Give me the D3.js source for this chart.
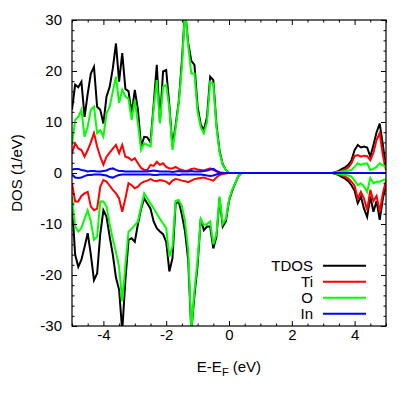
<!DOCTYPE html>
<html>
<head>
<meta charset="utf-8">
<script src="https://cdn.jsdelivr.net/npm/d3@7/dist/d3.min.js"></script>
<style>
html,body{margin:0;padding:0;background:#fff;}
svg{display:block;}
text{font-family:"Liberation Sans",Arial,Helvetica,sans-serif;fill:#000;}
</style>
</head>
<body>
<svg id="chart" width="415" height="396"></svg>
<script>
// Energy grid (eV, relative to E_F)
const energy = [-5.0,-4.9,-4.8,-4.7,-4.6,-4.5,-4.4,-4.3,-4.2,-4.1,
 -4.0,-3.9,-3.8,-3.7,-3.6,-3.5,-3.4,-3.3,-3.2,-3.1,
 -3.0,-2.9,-2.8,-2.7,-2.6,-2.5,-2.4,-2.3,-2.2,-2.1,
 -2.0,-1.9,-1.8,-1.7,-1.6,-1.5,-1.4,-1.3,-1.2,-1.1,
 -1.0,-0.9,-0.8,-0.7,-0.6,-0.5,-0.4,-0.3,-0.2,-0.1,
 0.0,0.1,0.2,0.3,0.4,0.5,0.6,0.7,0.8,0.9,
 1.0,1.1,1.2,1.3,1.4,1.5,1.6,1.7,1.8,1.9,
 2.0,2.1,2.2,2.3,2.4,2.5,2.6,2.7,2.8,2.9,
 3.0,3.1,3.2,3.3,3.4,3.5,3.6,3.7,3.8,3.9,
 4.0,4.1,4.2,4.3,4.4,4.5,4.6,4.7,4.8,4.9,5.0];

// spin up
const tdosUp = [12.4,17.3,16.8,17.9,11.0,15.5,19.5,20.8,13.0,12.4,
 9.7,15.0,16.9,20.5,25.4,17.9,23.5,16.5,16.0,11.7,
 16.3,12.4,5.2,7.1,7.0,6.0,13.3,21.2,10.0,19.9,
 20.2,13.3,5.2,9.4,14.0,22.0,32.0,25.5,22.0,21.2,
 13.0,9.5,8.4,11.0,18.9,18.2,9.5,4.3,1.7,0.6,
 0,
 0,0,0,0,0,0,0,0, 0,0,0,0,0,0,0,0, 0,0,0,0,0,0,0,0, 0,0,0,0,0,0,0,0,
 0,0.2,0.4,0.8,1.1,1.6,2.5,4.5,5.5,5.0,5.2,5.0,3.2,5.5,8.0,9.7,5.5,1.0];
const tiUp = [3.9,5.8,4.8,4.5,3.2,4.5,6.0,7.8,5.2,3.2,
 1.6,3.2,4.0,4.8,5.5,3.9,5.5,3.2,3.0,2.5,
 2.9,1.9,1.0,0.6,0.6,1.6,1.4,2.2,1.6,1.9,
 1.2,0.9,0.9,1.2,0.8,0.6,0.4,0.5,0.8,0.9,
 0.7,0.6,0.5,0.7,0.9,0.6,0.3,0.1,0.05,0,
 0,
 0,0,0,0,0,0,0,0, 0,0,0,0,0,0,0,0, 0,0,0,0,0,0,0,0, 0,0,0,0,0,0,0,0,
 0,0.1,0.2,0.4,0.7,1.1,1.9,3.3,3.5,3.2,3.4,3.3,2.5,4.0,6.5,7.8,3.5,0.6];
const oUp = [5.5,10.4,11.0,12.4,7.1,9.1,12.4,13.0,7.8,8.4,
 7.1,11.7,13.0,16.0,18.9,13.7,16.3,15.0,14.5,10.4,
 14.3,9.7,4.5,5.8,5.5,5.2,12.7,18.2,9.7,16.9,
 17.3,12.7,4.5,8.8,13.7,20.8,32.0,25.0,19.5,19.5,
 12.0,9.0,7.8,10.0,17.9,17.5,9.0,4.0,1.6,0.6,
 0,
 0,0,0,0,0,0,0,0, 0,0,0,0,0,0,0,0, 0,0,0,0,0,0,0,0, 0,0,0,0,0,0,0,0,
 0,0.1,0.2,0.3,0.4,0.5,0.6,1.2,1.9,1.6,1.8,1.9,0.6,0.8,1.2,1.9,1.5,1.2];
const inUp = [0.7,0.8,0.8,0.6,0.5,0.3,0.4,0.4,0.3,0.3,
 0.4,0.5,0.8,0.9,0.6,0.4,0.4,0.3,0.3,0.3,
 0.3,0.3,0.3,0.3,0.3,0.4,0.5,0.4,0.3,0.3,
 0.3,0.3,0.2,0.3,0.4,0.3,0.3,0.3,0.4,0.3,
 0.3,0.3,0.4,0.5,0.7,0.8,0.4,0.1,0,0,
 0,
 0,0,0,0,0,0,0,0, 0,0,0,0,0,0,0,0, 0,0,0,0,0,0,0,0, 0,0,0,0,0,0,0,0,
 0,0,0,0,0,0,0,0,0,0,0,0,0,0,0,0,0,0];

// spin down
const tdosDown = [-6.0,-16.0,-18.4,-17.0,-14.5,-11.8,-16.0,-21.0,-19.7,-12.0,
 -7.3,-8.6,-12.5,-16.0,-20.5,-22.9,-31.0,-21.0,-13.1,-12.8,
 -13.5,-10.0,-7.0,-5.0,-6.0,-7.0,-9.5,-10.8,-11.5,-12.0,
 -13.5,-19.3,-16.7,-6.0,-5.6,-8.2,-11.5,-17.0,-31.0,-24.0,
 -18.0,-9.0,-11.2,-10.5,-10.5,-14.8,-12.5,-5.0,-10.5,-9.5,
 -5.5,
 -3.5,-2.0,-0.6,
 0,0,0,0,0,0,0,0, 0,0,0,0,0,0,0,0, 0,0,0,0,0,0,0,0, 0,0,0,0,0,
 0,-0.2,-0.4,-0.8,-1.1,-1.6,-2.4,-3.5,-5.9,-4.6,-7.0,-8.6,-4.6,-7.6,-5.5,-9.2,-5.0,-2.4];
const tiDown = [-2.0,-5.6,-5.6,-4.5,-4.0,-3.7,-6.6,-7.3,-7.0,-2.7,
 -1.4,-1.7,-2.5,-3.3,-4.0,-5.0,-7.6,-5.0,-2.0,-2.4,
 -3.0,-2.7,-2.0,-1.7,-1.5,-1.2,-1.5,-1.6,-1.4,-1.5,
 -1.7,-2.2,-1.5,-1.2,-1.3,-1.5,-1.6,-1.8,-1.5,-1.2,
 -1.1,-1.0,-0.9,-1.1,-1.3,-1.5,-0.9,-0.4,-0.2,-0.1,
 0,
 0,0,0,
 0,0,0,0,0,0,0,0, 0,0,0,0,0,0,0,0, 0,0,0,0,0,0,0,0, 0,0,0,0,0,
 0,-0.1,-0.2,-0.4,-0.7,-1.1,-1.7,-2.5,-5.0,-3.7,-5.0,-7.3,-3.3,-5.5,-4.5,-7.6,-4.0,-1.5];
const oDown = [-4.6,-10.5,-11.5,-10.8,-9.0,-7.3,-9.5,-13.1,-12.5,-5.6,
 -5.6,-6.6,-10.0,-13.0,-15.5,-18.4,-25.2,-18.0,-11.5,-11.0,
 -10.2,-9.5,-6.6,-4.0,-5.0,-6.0,-6.9,-8.0,-9.0,-9.9,
 -10.8,-16.4,-14.4,-5.5,-5.3,-6.5,-9.5,-15.0,-31.0,-23.0,
 -17.0,-9.0,-10.2,-10.0,-9.5,-14.0,-12.0,-4.6,-10.0,-9.0,
 -5.3,
 -3.3,-2.0,-0.6,
 0,0,0,0,0,0,0,0, 0,0,0,0,0,0,0,0, 0,0,0,0,0,0,0,0, 0,0,0,0,0,
 0,-0.1,-0.2,-0.3,-0.4,-0.5,-0.7,-1.5,-2.4,-2.0,-2.6,-3.7,-1.0,-2.0,-1.7,-1.7,-1.4,-1.2];
const inDown = [-0.3,-0.9,-1.0,-0.9,-0.6,-0.4,-0.4,-0.3,-0.3,-0.3,
 -0.4,-0.5,-0.8,-0.9,-0.6,-0.4,-0.3,-0.3,-0.3,-0.3,
 -0.3,-0.3,-0.3,-0.3,-0.3,-0.3,-0.4,-0.4,-0.3,-0.3,
 -0.3,-0.3,-0.3,-0.3,-0.4,-0.3,-0.3,-0.3,-0.3,-0.3,
 -0.3,-0.3,-0.4,-0.5,-0.6,-0.5,-0.3,-0.1,0,0,
 0,
 0,0,0,
 0,0,0,0,0,0,0,0, 0,0,0,0,0,0,0,0, 0,0,0,0,0,0,0,0, 0,0,0,0,0,
 0,0,0,0,0,0,0,0,0,0,0,0,0,0,0,0,0,0];

const seriesNames = ["TDOS","Ti","O","In"];
const seriesColors = ["#000000","#ff0000","#00ff00","#0000ff"];
const xTicks = [-4,-2,0,2,4];
const yTicks = [-30,-20,-10,0,10,20,30];
const xMinorTicks = [-5,-4.5,-3.5,-3,-2.5,-1.5,-1,-0.5,0.5,1,1.5,2.5,3,3.5,4.5,5];
const yMinorTicks = [-28,-26,-24,-22,-18,-16,-14,-12,-8,-6,-4,-2,2,4,6,8,12,14,16,18,22,24,26,28];

const series = [
  {name:"TDOS", up:tdosUp, down:tdosDown},
  {name:"Ti", up:tiUp, down:tiDown},
  {name:"O", up:oUp, down:oDown},
  {name:"In", up:inUp, down:inDown}
];

const L=72, R=386, T=20, B=326;
const svg = d3.select("#chart");
const x = d3.scaleLinear().domain([-5,5]).range([L,R]);
const y = d3.scaleLinear().domain([-30,30]).range([B,T]);

svg.append("defs").append("clipPath").attr("id","clip")
  .append("rect").attr("x",L).attr("y",T).attr("width",R-L).attr("height",B-T);

const line = d3.line().x((d,i)=>x(energy[i])).y(d=>y(d));
const plot = svg.append("g").attr("clip-path","url(#clip)");
series.forEach((s,k)=>{
  [s.up, s.down].forEach(arr=>{
    plot.append("path").datum(arr).attr("d",line)
      .attr("fill","none").attr("stroke",seriesColors[k])
      .attr("stroke-width",2).attr("stroke-linejoin","miter");
  });
});

// axes (ticks inward, mirrored)
const fs = "15px";
const fmt = d => String(d);
function styleAxis(g){ g.select(".domain").remove(); g.selectAll("line").attr("stroke","#000"); g.selectAll("text").style("font-size",fs).attr("fill","#000").style("font-family",'"Liberation Sans",Arial,sans-serif'); }
svg.append("g").attr("transform",`translate(0,${B})`)
  .call(d3.axisBottom(x).tickValues(xTicks).tickSize(-5).tickPadding(3.5).tickFormat(fmt)).call(styleAxis);
svg.append("g").attr("transform",`translate(0,${B})`)
  .call(d3.axisBottom(x).tickValues(xMinorTicks).tickSize(-2.5).tickFormat("")).call(styleAxis);
svg.append("g").attr("transform",`translate(0,${T})`)
  .call(d3.axisTop(x).tickValues(xTicks).tickSize(-5).tickFormat("")).call(styleAxis);
svg.append("g").attr("transform",`translate(0,${T})`)
  .call(d3.axisTop(x).tickValues(xMinorTicks).tickSize(-2.5).tickFormat("")).call(styleAxis);
svg.append("g").attr("transform",`translate(${L},0)`)
  .call(d3.axisLeft(y).tickValues(yTicks).tickSize(-5).tickPadding(10).tickFormat(fmt)).call(styleAxis);
svg.append("g").attr("transform",`translate(${L},0)`)
  .call(d3.axisLeft(y).tickValues(yMinorTicks).tickSize(-2.5).tickFormat("")).call(styleAxis);
svg.append("g").attr("transform",`translate(${R},0)`)
  .call(d3.axisRight(y).tickValues(yTicks).tickSize(-5).tickFormat("")).call(styleAxis);
svg.append("g").attr("transform",`translate(${R},0)`)
  .call(d3.axisRight(y).tickValues(yMinorTicks).tickSize(-2.5).tickFormat("")).call(styleAxis);

svg.append("rect").attr("x",L).attr("y",T).attr("width",R-L).attr("height",B-T)
  .attr("fill","none").attr("stroke","#000").attr("stroke-width",1.2);

// axis titles
const xl = svg.append("text").attr("x",(L+R)/2).attr("y",372).attr("text-anchor","middle").style("font-size",fs);
xl.append("tspan").text("E-E");
xl.append("tspan").attr("dy",4).style("font-size","11px").text("F");
xl.append("tspan").attr("dy",-4).text(" (eV)");

svg.append("text").attr("transform",`translate(21.5,${(T+B)/2}) rotate(-90)`)
  .attr("text-anchor","middle").style("font-size",fs).text("DOS (1/eV)");

// legend
const leg = svg.append("g");
seriesNames.forEach((n,i)=>{
  const yy = 265.7 + i*16;
  leg.append("text").attr("x",313).attr("y",yy+5).attr("text-anchor","end").style("font-size",fs).text(n);
  leg.append("line").attr("x1",323).attr("x2",366).attr("y1",yy).attr("y2",yy)
    .attr("stroke",seriesColors[i]).attr("stroke-width",2);
});
</script>
</body>
</html>
